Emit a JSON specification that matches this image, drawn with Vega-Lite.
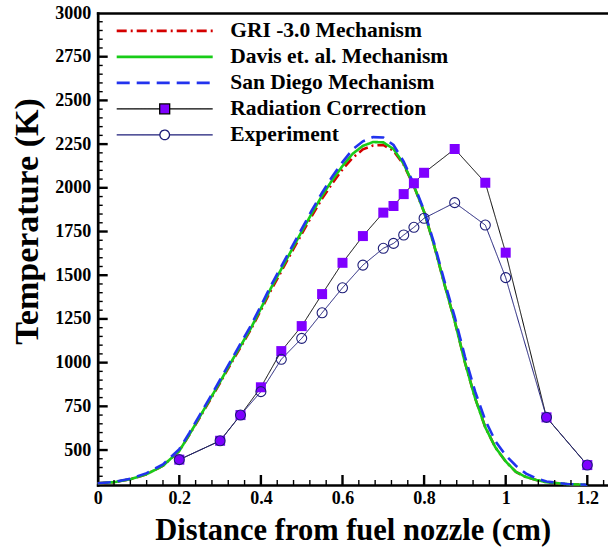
{
  "$schema": "https://vega.github.io/schema/vega-lite/v6.json",
  "autosize": {"type": "none"},
  "padding": {"left": 97.7, "top": 13, "right": 0.3, "bottom": 64},
  "width": 510,
  "height": 472,
  "config": {"view": {"stroke": null}, "font": "Liberation Serif"},
  "resolve": {"axis": {"x": "independent", "y": "independent"}},
  "datasets": {
    "curves": [
    {"series": "GRI -3.0 Mechanism", "x": 0, "y": 310}, {"series": "GRI -3.0 Mechanism", "x": 0.04, "y": 316}, {"series": "GRI -3.0 Mechanism", "x": 0.08, "y": 333}, {"series": "GRI -3.0 Mechanism", "x": 0.12, "y": 362}, {"series": "GRI -3.0 Mechanism", "x": 0.16, "y": 410}, {"series": "GRI -3.0 Mechanism", "x": 0.2, "y": 495}, {"series": "GRI -3.0 Mechanism", "x": 0.225, "y": 588}, {"series": "GRI -3.0 Mechanism", "x": 0.25, "y": 686}, {"series": "GRI -3.0 Mechanism", "x": 0.275, "y": 785}, {"series": "GRI -3.0 Mechanism", "x": 0.3, "y": 885}, {"series": "GRI -3.0 Mechanism", "x": 0.325, "y": 988}, {"series": "GRI -3.0 Mechanism", "x": 0.35, "y": 1088}, {"series": "GRI -3.0 Mechanism", "x": 0.375, "y": 1188}, {"series": "GRI -3.0 Mechanism", "x": 0.4, "y": 1300}, {"series": "GRI -3.0 Mechanism", "x": 0.425, "y": 1416}, {"series": "GRI -3.0 Mechanism", "x": 0.45, "y": 1522}, {"series": "GRI -3.0 Mechanism", "x": 0.475, "y": 1630}, {"series": "GRI -3.0 Mechanism", "x": 0.5, "y": 1736}, {"series": "GRI -3.0 Mechanism", "x": 0.525, "y": 1840}, {"series": "GRI -3.0 Mechanism", "x": 0.55, "y": 1938}, {"series": "GRI -3.0 Mechanism", "x": 0.575, "y": 2026}, {"series": "GRI -3.0 Mechanism", "x": 0.6, "y": 2105}, {"series": "GRI -3.0 Mechanism", "x": 0.625, "y": 2172}, {"series": "GRI -3.0 Mechanism", "x": 0.65, "y": 2220}, {"series": "GRI -3.0 Mechanism", "x": 0.675, "y": 2242}, {"series": "GRI -3.0 Mechanism", "x": 0.7, "y": 2245}, {"series": "GRI -3.0 Mechanism", "x": 0.725, "y": 2212}, {"series": "GRI -3.0 Mechanism", "x": 0.75, "y": 2132}, {"series": "GRI -3.0 Mechanism", "x": 0.775, "y": 2010}, {"series": "GRI -3.0 Mechanism", "x": 0.8, "y": 1862}, {"series": "GRI -3.0 Mechanism", "x": 0.825, "y": 1667}, {"series": "GRI -3.0 Mechanism", "x": 0.85, "y": 1447}, {"series": "GRI -3.0 Mechanism", "x": 0.875, "y": 1238}, {"series": "GRI -3.0 Mechanism", "x": 0.9, "y": 1002}, {"series": "GRI -3.0 Mechanism", "x": 0.925, "y": 797}, {"series": "GRI -3.0 Mechanism", "x": 0.95, "y": 630}, {"series": "GRI -3.0 Mechanism", "x": 0.975, "y": 514}, {"series": "GRI -3.0 Mechanism", "x": 1, "y": 435}, {"series": "GRI -3.0 Mechanism", "x": 1.025, "y": 375}, {"series": "GRI -3.0 Mechanism", "x": 1.05, "y": 345}, {"series": "GRI -3.0 Mechanism", "x": 1.075, "y": 329}, {"series": "GRI -3.0 Mechanism", "x": 1.1, "y": 316}, {"series": "GRI -3.0 Mechanism", "x": 1.15, "y": 305}, {"series": "GRI -3.0 Mechanism", "x": 1.2, "y": 301},
    {"series": "Davis et. al. Mechanism", "x": 0, "y": 310}, {"series": "Davis et. al. Mechanism", "x": 0.04, "y": 316}, {"series": "Davis et. al. Mechanism", "x": 0.08, "y": 333}, {"series": "Davis et. al. Mechanism", "x": 0.12, "y": 362}, {"series": "Davis et. al. Mechanism", "x": 0.16, "y": 410}, {"series": "Davis et. al. Mechanism", "x": 0.2, "y": 495}, {"series": "Davis et. al. Mechanism", "x": 0.225, "y": 590}, {"series": "Davis et. al. Mechanism", "x": 0.25, "y": 690}, {"series": "Davis et. al. Mechanism", "x": 0.275, "y": 790}, {"series": "Davis et. al. Mechanism", "x": 0.3, "y": 890}, {"series": "Davis et. al. Mechanism", "x": 0.325, "y": 995}, {"series": "Davis et. al. Mechanism", "x": 0.35, "y": 1095}, {"series": "Davis et. al. Mechanism", "x": 0.375, "y": 1195}, {"series": "Davis et. al. Mechanism", "x": 0.4, "y": 1310}, {"series": "Davis et. al. Mechanism", "x": 0.425, "y": 1428}, {"series": "Davis et. al. Mechanism", "x": 0.45, "y": 1535}, {"series": "Davis et. al. Mechanism", "x": 0.475, "y": 1643}, {"series": "Davis et. al. Mechanism", "x": 0.5, "y": 1750}, {"series": "Davis et. al. Mechanism", "x": 0.525, "y": 1855}, {"series": "Davis et. al. Mechanism", "x": 0.55, "y": 1955}, {"series": "Davis et. al. Mechanism", "x": 0.575, "y": 2045}, {"series": "Davis et. al. Mechanism", "x": 0.6, "y": 2125}, {"series": "Davis et. al. Mechanism", "x": 0.625, "y": 2195}, {"series": "Davis et. al. Mechanism", "x": 0.65, "y": 2240}, {"series": "Davis et. al. Mechanism", "x": 0.675, "y": 2262}, {"series": "Davis et. al. Mechanism", "x": 0.7, "y": 2260}, {"series": "Davis et. al. Mechanism", "x": 0.725, "y": 2222}, {"series": "Davis et. al. Mechanism", "x": 0.75, "y": 2137}, {"series": "Davis et. al. Mechanism", "x": 0.775, "y": 2011}, {"series": "Davis et. al. Mechanism", "x": 0.8, "y": 1862}, {"series": "Davis et. al. Mechanism", "x": 0.825, "y": 1667}, {"series": "Davis et. al. Mechanism", "x": 0.85, "y": 1447}, {"series": "Davis et. al. Mechanism", "x": 0.875, "y": 1238}, {"series": "Davis et. al. Mechanism", "x": 0.9, "y": 1002}, {"series": "Davis et. al. Mechanism", "x": 0.925, "y": 797}, {"series": "Davis et. al. Mechanism", "x": 0.95, "y": 630}, {"series": "Davis et. al. Mechanism", "x": 0.975, "y": 514}, {"series": "Davis et. al. Mechanism", "x": 1, "y": 435}, {"series": "Davis et. al. Mechanism", "x": 1.025, "y": 375}, {"series": "Davis et. al. Mechanism", "x": 1.05, "y": 345}, {"series": "Davis et. al. Mechanism", "x": 1.075, "y": 329}, {"series": "Davis et. al. Mechanism", "x": 1.1, "y": 316}, {"series": "Davis et. al. Mechanism", "x": 1.15, "y": 305}, {"series": "Davis et. al. Mechanism", "x": 1.2, "y": 301},
    {"series": "San Diego Mechanism", "x": 0, "y": 310}, {"series": "San Diego Mechanism", "x": 0.04, "y": 317}, {"series": "San Diego Mechanism", "x": 0.08, "y": 336}, {"series": "San Diego Mechanism", "x": 0.12, "y": 368}, {"series": "San Diego Mechanism", "x": 0.16, "y": 418}, {"series": "San Diego Mechanism", "x": 0.2, "y": 505}, {"series": "San Diego Mechanism", "x": 0.225, "y": 600}, {"series": "San Diego Mechanism", "x": 0.25, "y": 700}, {"series": "San Diego Mechanism", "x": 0.275, "y": 800}, {"series": "San Diego Mechanism", "x": 0.3, "y": 902}, {"series": "San Diego Mechanism", "x": 0.325, "y": 1006}, {"series": "San Diego Mechanism", "x": 0.35, "y": 1108}, {"series": "San Diego Mechanism", "x": 0.375, "y": 1210}, {"series": "San Diego Mechanism", "x": 0.4, "y": 1325}, {"series": "San Diego Mechanism", "x": 0.425, "y": 1442}, {"series": "San Diego Mechanism", "x": 0.45, "y": 1550}, {"series": "San Diego Mechanism", "x": 0.475, "y": 1658}, {"series": "San Diego Mechanism", "x": 0.5, "y": 1765}, {"series": "San Diego Mechanism", "x": 0.525, "y": 1872}, {"series": "San Diego Mechanism", "x": 0.55, "y": 1972}, {"series": "San Diego Mechanism", "x": 0.575, "y": 2065}, {"series": "San Diego Mechanism", "x": 0.6, "y": 2147}, {"series": "San Diego Mechanism", "x": 0.625, "y": 2220}, {"series": "San Diego Mechanism", "x": 0.65, "y": 2266}, {"series": "San Diego Mechanism", "x": 0.675, "y": 2290}, {"series": "San Diego Mechanism", "x": 0.7, "y": 2288}, {"series": "San Diego Mechanism", "x": 0.725, "y": 2245}, {"series": "San Diego Mechanism", "x": 0.75, "y": 2150}, {"series": "San Diego Mechanism", "x": 0.775, "y": 2020}, {"series": "San Diego Mechanism", "x": 0.8, "y": 1870}, {"series": "San Diego Mechanism", "x": 0.825, "y": 1680}, {"series": "San Diego Mechanism", "x": 0.85, "y": 1465}, {"series": "San Diego Mechanism", "x": 0.875, "y": 1262}, {"series": "San Diego Mechanism", "x": 0.9, "y": 1035}, {"series": "San Diego Mechanism", "x": 0.925, "y": 835}, {"series": "San Diego Mechanism", "x": 0.95, "y": 670}, {"series": "San Diego Mechanism", "x": 0.975, "y": 550}, {"series": "San Diego Mechanism", "x": 1, "y": 470}, {"series": "San Diego Mechanism", "x": 1.025, "y": 410}, {"series": "San Diego Mechanism", "x": 1.05, "y": 365}, {"series": "San Diego Mechanism", "x": 1.075, "y": 338}, {"series": "San Diego Mechanism", "x": 1.1, "y": 320}, {"series": "San Diego Mechanism", "x": 1.15, "y": 306}, {"series": "San Diego Mechanism", "x": 1.2, "y": 301},
    {"series": "Radiation Correction", "x": 0.2, "y": 445}, {"series": "Radiation Correction", "x": 0.3, "y": 553}, {"series": "Radiation Correction", "x": 0.35, "y": 700}, {"series": "Radiation Correction", "x": 0.4, "y": 859}, {"series": "Radiation Correction", "x": 0.45, "y": 1066}, {"series": "Radiation Correction", "x": 0.5, "y": 1209}, {"series": "Radiation Correction", "x": 0.55, "y": 1392}, {"series": "Radiation Correction", "x": 0.6, "y": 1571}, {"series": "Radiation Correction", "x": 0.65, "y": 1724}, {"series": "Radiation Correction", "x": 0.7, "y": 1858}, {"series": "Radiation Correction", "x": 0.725, "y": 1896}, {"series": "Radiation Correction", "x": 0.75, "y": 1964}, {"series": "Radiation Correction", "x": 0.775, "y": 2026}, {"series": "Radiation Correction", "x": 0.8, "y": 2086}, {"series": "Radiation Correction", "x": 0.875, "y": 2222}, {"series": "Radiation Correction", "x": 0.95, "y": 2029}, {"series": "Radiation Correction", "x": 1, "y": 1629}, {"series": "Radiation Correction", "x": 1.1, "y": 687}, {"series": "Radiation Correction", "x": 1.2, "y": 414},
    {"series": "Experiment", "x": 0.2, "y": 445}, {"series": "Experiment", "x": 0.3, "y": 553}, {"series": "Experiment", "x": 0.35, "y": 700}, {"series": "Experiment", "x": 0.4, "y": 834}, {"series": "Experiment", "x": 0.45, "y": 1019}, {"series": "Experiment", "x": 0.5, "y": 1139}, {"series": "Experiment", "x": 0.55, "y": 1285}, {"series": "Experiment", "x": 0.6, "y": 1428}, {"series": "Experiment", "x": 0.65, "y": 1558}, {"series": "Experiment", "x": 0.7, "y": 1654}, {"series": "Experiment", "x": 0.725, "y": 1682}, {"series": "Experiment", "x": 0.75, "y": 1730}, {"series": "Experiment", "x": 0.775, "y": 1774}, {"series": "Experiment", "x": 0.8, "y": 1826}, {"series": "Experiment", "x": 0.875, "y": 1915}, {"series": "Experiment", "x": 0.95, "y": 1787}, {"series": "Experiment", "x": 1, "y": 1486}, {"series": "Experiment", "x": 1.1, "y": 687}, {"series": "Experiment", "x": 1.2, "y": 414}
    ],
    "xticks": [
      {"v": 0.04, "kind": "minor"}, {"v": 0.08, "kind": "minor"}, {"v": 0.12, "kind": "minor"}, {"v": 0.16, "kind": "minor"}, {"v": 0.2, "kind": "major"},
      {"v": 0.24, "kind": "minor"}, {"v": 0.28, "kind": "minor"}, {"v": 0.32, "kind": "minor"}, {"v": 0.36, "kind": "minor"}, {"v": 0.4, "kind": "major"},
      {"v": 0.44, "kind": "minor"}, {"v": 0.48, "kind": "minor"}, {"v": 0.52, "kind": "minor"}, {"v": 0.56, "kind": "minor"}, {"v": 0.6, "kind": "major"},
      {"v": 0.64, "kind": "minor"}, {"v": 0.68, "kind": "minor"}, {"v": 0.72, "kind": "minor"}, {"v": 0.76, "kind": "minor"}, {"v": 0.8, "kind": "major"},
      {"v": 0.84, "kind": "minor"}, {"v": 0.88, "kind": "minor"}, {"v": 0.92, "kind": "minor"}, {"v": 0.96, "kind": "minor"}, {"v": 1, "kind": "major"},
      {"v": 1.04, "kind": "minor"}, {"v": 1.08, "kind": "minor"}, {"v": 1.12, "kind": "minor"}, {"v": 1.16, "kind": "minor"}, {"v": 1.2, "kind": "major"},
      {"v": 1.24, "kind": "minor"}
    ],
    "yticks": [
      {"v": 350, "kind": "minor"}, {"v": 400, "kind": "minor"}, {"v": 450, "kind": "minor"}, {"v": 500, "kind": "major"},
      {"v": 550, "kind": "minor"}, {"v": 600, "kind": "minor"}, {"v": 650, "kind": "minor"}, {"v": 700, "kind": "minor"}, {"v": 750, "kind": "major"},
      {"v": 800, "kind": "minor"}, {"v": 850, "kind": "minor"}, {"v": 900, "kind": "minor"}, {"v": 950, "kind": "minor"}, {"v": 1000, "kind": "major"},
      {"v": 1050, "kind": "minor"}, {"v": 1100, "kind": "minor"}, {"v": 1150, "kind": "minor"}, {"v": 1200, "kind": "minor"}, {"v": 1250, "kind": "major"},
      {"v": 1300, "kind": "minor"}, {"v": 1350, "kind": "minor"}, {"v": 1400, "kind": "minor"}, {"v": 1450, "kind": "minor"}, {"v": 1500, "kind": "major"},
      {"v": 1550, "kind": "minor"}, {"v": 1600, "kind": "minor"}, {"v": 1650, "kind": "minor"}, {"v": 1700, "kind": "minor"}, {"v": 1750, "kind": "major"},
      {"v": 1800, "kind": "minor"}, {"v": 1850, "kind": "minor"}, {"v": 1900, "kind": "minor"}, {"v": 1950, "kind": "minor"}, {"v": 2000, "kind": "major"},
      {"v": 2050, "kind": "minor"}, {"v": 2100, "kind": "minor"}, {"v": 2150, "kind": "minor"}, {"v": 2200, "kind": "minor"}, {"v": 2250, "kind": "major"},
      {"v": 2300, "kind": "minor"}, {"v": 2350, "kind": "minor"}, {"v": 2400, "kind": "minor"}, {"v": 2450, "kind": "minor"}, {"v": 2500, "kind": "major"},
      {"v": 2550, "kind": "minor"}, {"v": 2600, "kind": "minor"}, {"v": 2650, "kind": "minor"}, {"v": 2700, "kind": "minor"}, {"v": 2750, "kind": "major"},
      {"v": 2800, "kind": "minor"}, {"v": 2850, "kind": "minor"}, {"v": 2900, "kind": "minor"}, {"v": 2950, "kind": "minor"}
    ]
  },
  "layer": [
    {
      "data": {"name": "curves"},
      "transform": [{"filter": "indexof(['GRI -3.0 Mechanism','Davis et. al. Mechanism','San Diego Mechanism'], datum.series) >= 0"}],
      "mark": {"type": "line", "strokeWidth": 2.6},
      "encoding": {
        "x": {"field": "x", "type": "quantitative", "scale": {"domain": [0, 1.25], "nice": false, "zero": false},
          "axis": {"orient": "bottom", "values": [0, 0.2, 0.4, 0.6, 0.8, 1, 1.2], "format": "~g",
            "ticks": false, "labelPadding": 4, "labelOverlap": false, "labelFlush": false, "labelBound": false,
            "labelFont": "Liberation Serif", "labelFontWeight": "bold", "labelFontSize": 18, "labelColor": "black", "labelBaseline": "top",
            "domainColor": "black", "domainWidth": 2.7, "domainCap": "square", "grid": false,
            "title": "Distance from fuel nozzle (cm)", "titleFont": "Liberation Serif", "titleFontWeight": "bold", "titleFontSize": 30.5, "titleColor": "black",
            "titleX": 255, "titleY": 54, "titleAlign": "center", "titleBaseline": "alphabetic"}},
        "y": {"field": "y", "type": "quantitative", "scale": {"domain": [300, 3000], "nice": false, "zero": false},
          "axis": {"orient": "left", "values": [500, 750, 1000, 1250, 1500, 1750, 2000, 2250, 2500, 2750, 3000], "format": "d",
            "ticks": false, "labelPadding": 7, "labelOverlap": false, "labelFlush": false, "labelBound": false,
            "labelFont": "Liberation Serif", "labelFontWeight": "bold", "labelFontSize": 18, "labelColor": "black",
            "domainColor": "black", "domainWidth": 2.7, "domainCap": "square", "grid": false,
            "title": "Temperature (K)", "titleFont": "Liberation Serif", "titleFontWeight": "bold", "titleFontSize": 34, "titleColor": "black",
            "titleX": -70.7, "titleY": 208, "titleAngle": -90, "titleAlign": "center", "titleBaseline": "middle"}},
        "stroke": {"field": "series", "type": "nominal",
          "scale": {"domain": ["GRI -3.0 Mechanism", "Davis et. al. Mechanism", "San Diego Mechanism", "Radiation Correction", "Experiment"], "range": ["#d40000", "#18cc18", "#2233ee", "#000000", "#1c1c78"]},
          "legend": {"orient": "none", "legendX": 17.5, "legendY": 5, "title": null, "padding": 0, "rowPadding": 0, "clipHeight": 25.75,
            "symbolSize": 9216, "labelOffset": 16, "labelLimit": 0,
            "labelFont": "Liberation Serif", "labelFontWeight": "bold", "labelFontSize": 21.5, "labelColor": "black",
            "encode": {"symbols": {"update": {
              "shape": {"signal": "datum.value === 'Radiation Correction' ? 'M-1,0H-0.104M0.104,0H1M-0.104,-0.104H0.104V0.104H-0.104Z' : (datum.value === 'Experiment' ? 'M-1,0H-0.1M0.1,0H1M-0.1,0A0.1,0.1,0,1,1,0.1,0A0.1,0.1,0,1,1,-0.1,0Z' : 'M-1,0H1')"},
              "fill": {"signal": "datum.value === 'Radiation Correction' ? '#7f00ff' : 'transparent'"},
              "strokeWidth": {"signal": "((datum.value === 'Radiation Correction' || datum.value === 'Experiment') ? 1.3 : 2.6)"},
              "opacity": {"value": 1}}}}}},
        "strokeDash": {"field": "series", "type": "nominal",
          "scale": {"domain": ["GRI -3.0 Mechanism", "Davis et. al. Mechanism", "San Diego Mechanism", "Radiation Correction", "Experiment"], "range": [[10, 4, 2, 4], [1, 0], [13, 7], [1, 0], [1, 0]]},
          "legend": {"orient": "none", "legendX": 17.5, "legendY": 5, "title": null}}
      }
    },
    {
      "data": {"name": "curves"},
      "transform": [{"filter": "datum.series === 'Radiation Correction' || datum.series === 'Experiment'"}],
      "mark": {"type": "line", "strokeWidth": 1},
      "encoding": {
        "x": {"field": "x", "type": "quantitative",
          "axis": {"orient": "top", "labels": false, "ticks": false, "title": null, "grid": false, "domainColor": "black", "domainWidth": 2.7, "domainCap": "square"}},
        "y": {"field": "y", "type": "quantitative", "axis": null},
        "stroke": {"field": "series", "type": "nominal"},
        "strokeDash": {"field": "series", "type": "nominal"}
      }
    },
    {
      "data": {"name": "curves"},
      "transform": [{"filter": "datum.series === 'Radiation Correction'"}],
      "mark": {"type": "point", "shape": "square", "filled": true, "color": "#7f00ff", "size": 100, "opacity": 1},
      "encoding": {
        "x": {"field": "x", "type": "quantitative", "axis": null},
        "y": {"field": "y", "type": "quantitative", "axis": null}
      }
    },
    {
      "data": {"name": "curves"},
      "transform": [{"filter": "datum.series === 'Experiment'"}],
      "mark": {"type": "point", "shape": "circle", "filled": false, "stroke": "#1c1c78", "strokeWidth": 1.1, "size": 100, "opacity": 1},
      "encoding": {
        "x": {"field": "x", "type": "quantitative", "axis": null},
        "y": {"field": "y", "type": "quantitative", "axis": null}
      }
    },
    {
      "data": {"name": "xticks"},
      "transform": [{"filter": "datum.kind === 'major'"}],
      "mark": {"type": "tick", "orient": "vertical", "size": 10, "thickness": 2.4, "yOffset": -5, "color": "black", "opacity": 1},
      "encoding": {
        "x": {"field": "v", "type": "quantitative", "axis": null},
        "y": {"datum": 300, "type": "quantitative", "axis": null}
      }
    },
    {
      "data": {"name": "xticks"},
      "transform": [{"filter": "datum.kind === 'minor'"}],
      "mark": {"type": "tick", "orient": "vertical", "size": 5, "thickness": 1.4, "yOffset": -2.5, "color": "black", "opacity": 1},
      "encoding": {
        "x": {"field": "v", "type": "quantitative", "axis": null},
        "y": {"datum": 300, "type": "quantitative", "axis": null}
      }
    },
    {
      "data": {"name": "yticks"},
      "transform": [{"filter": "datum.kind === 'major'"}],
      "mark": {"type": "tick", "orient": "horizontal", "size": 10, "thickness": 2.4, "xOffset": 5, "color": "black", "opacity": 1},
      "encoding": {
        "y": {"field": "v", "type": "quantitative", "axis": null},
        "x": {"datum": 0, "type": "quantitative", "axis": null}
      }
    },
    {
      "data": {"name": "yticks"},
      "transform": [{"filter": "datum.kind === 'minor'"}],
      "mark": {"type": "tick", "orient": "horizontal", "size": 5, "thickness": 1.4, "xOffset": 2.5, "color": "black", "opacity": 1},
      "encoding": {
        "y": {"field": "v", "type": "quantitative", "axis": null},
        "x": {"datum": 0, "type": "quantitative", "axis": null}
      }
    }
  ]
}
